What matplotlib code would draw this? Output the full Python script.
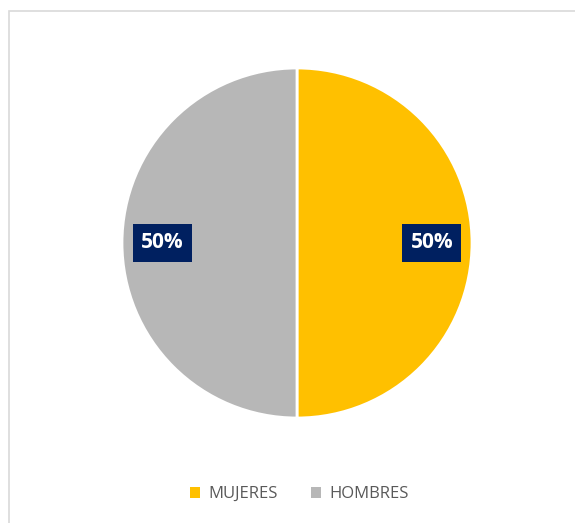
import matplotlib.pyplot as plt
from matplotlib.patches import Rectangle

labels = ['MUJERES', 'HOMBRES']
values = [50, 50]
colors = ['#FFC000', '#B7B7B7']

fig = plt.figure(figsize=(5.75, 5.23), dpi=100)
fig.patches.append(Rectangle((9/575, -0.01), 1.0, 1 - 11/523 + 0.01, transform=fig.transFigure,
                             fill=False, edgecolor='#D9D9D9', linewidth=1.2))

# pie centred at (297, 243) px, radius ~175 px
ax = fig.add_axes([(297 - 175)/575, (523 - 243 - 175)/523, 350/575, 350/523])
wedges, texts, autotexts = ax.pie(values, colors=colors, startangle=90, counterclock=False,
                                  autopct='%1.0f%%', pctdistance=0.77,
                                  wedgeprops=dict(edgecolor='white', linewidth=2))
for t in autotexts:
    t.set_color('white')
    t.set_fontweight('bold')
    t.set_fontsize(15)
    t.set_family('Open Sans')
    t.set_bbox(dict(facecolor='#002060', edgecolor='none', pad=6))
ax.set_xlim(-1, 1)
ax.set_ylim(-1, 1)
ax.set_aspect('equal')

leg = fig.legend(wedges, labels, loc='center', bbox_to_anchor=(0.52, 0.055), ncol=2, frameon=False,
                 handlelength=0.6, handleheight=0.6, handletextpad=0.5, columnspacing=2.0,
                 prop={'family': 'Open Sans', 'size': 12})
for t in leg.get_texts():
    t.set_color('#595959')
for h in leg.legend_handles:
    h.set_edgecolor('none')

fig.savefig('out.png', dpi=100)
